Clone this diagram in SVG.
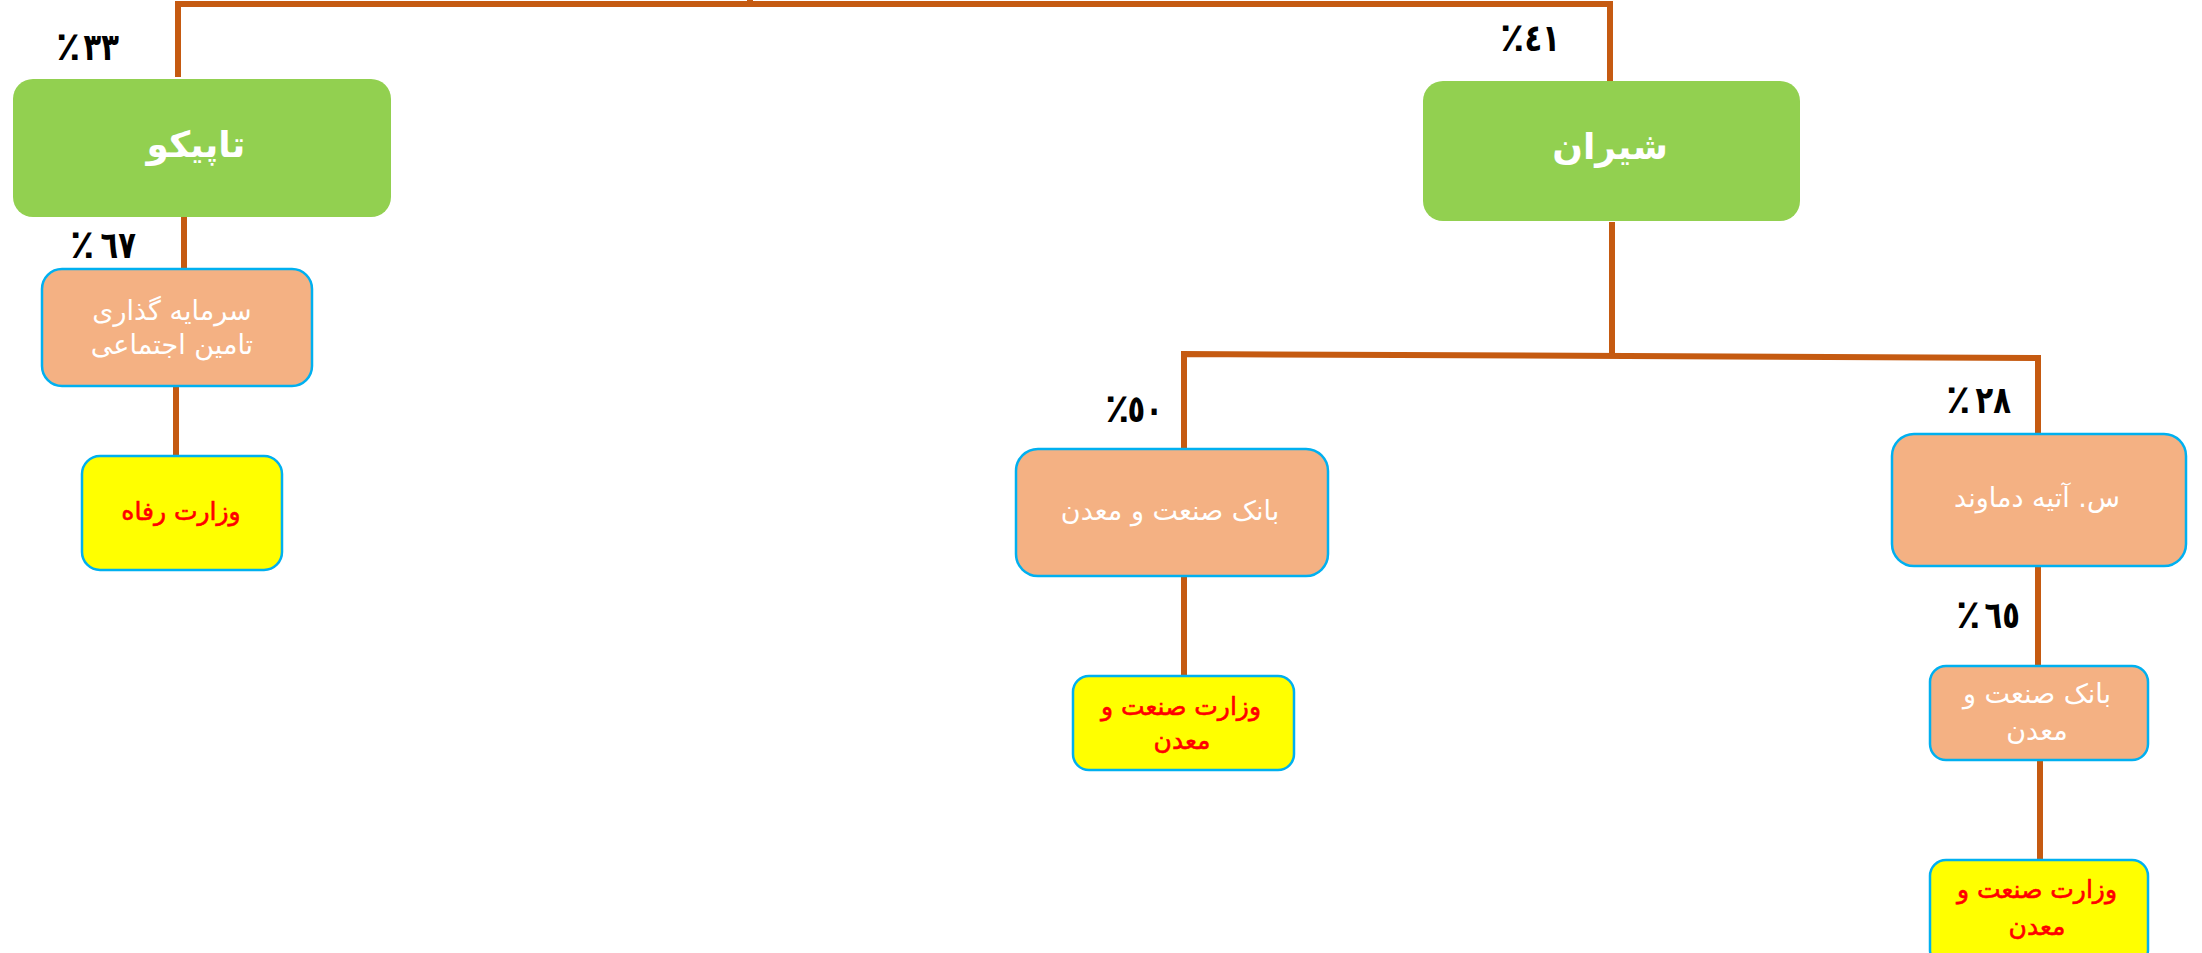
<svg xmlns="http://www.w3.org/2000/svg" width="2202" height="953" viewBox="0 0 2202 953">
<style>
.con{fill:none;stroke:#C55A11;stroke-width:6;stroke-linecap:butt;stroke-linejoin:miter}
.green{fill:#92D050;stroke:none}
.peach{fill:#F4B183;stroke:#00B0F0;stroke-width:2.5}
.yel{fill:#FFFF00;stroke:#00B0F0;stroke-width:2.5}
text{font-family:"DejaVu Sans",sans-serif;text-anchor:middle}
.gt{fill:#FFFFFF;font-size:36px;font-weight:bold;direction:rtl}
.pt{fill:#FFFFFF;font-size:27px;direction:rtl}
.yt{fill:#FF0000;stroke:#FF0000;stroke-width:0.6;font-size:25px;direction:rtl}
.ps{fill:#000000;font-size:40px;font-weight:bold;text-anchor:start}
.pd{fill:#000000;font-size:29px;font-weight:bold;text-anchor:end}
</style>
<rect width="2202" height="953" fill="#FFFFFF"/>
<g id="connectors">
<polyline class="con" points="178,77 178,4 1610,4 1610,81"/>
<line class="con" x1="750" y1="-8" x2="750" y2="4"/>
<line class="con" x1="184" y1="217" x2="184" y2="269"/>
<line class="con" x1="176" y1="387" x2="176" y2="456"/>
<line class="con" x1="1612" y1="222" x2="1612" y2="355"/>
<polyline class="con" points="1184,449 1184,354 2038,358 2038,434"/>
<line class="con" x1="1184" y1="576" x2="1184" y2="676"/>
<line class="con" x1="2038" y1="566" x2="2038" y2="666"/>
<line class="con" x1="2040" y1="760" x2="2040" y2="860"/>
</g>
<g id="labels">
<g id="pct-33"><text class="ps" x="56" y="60">٪</text><text class="pd" transform="translate(119,60) scale(1,1.3)">٣٣</text></g>
<g id="pct-67"><text class="ps" x="70" y="258">٪</text><text class="pd" transform="translate(136,258) scale(1,1.3)">٦٧</text></g>
<g id="pct-41"><text class="ps" x="1500" y="51">٪</text><text class="pd" transform="translate(1560,51) scale(1,1.3)">٤١</text></g>
<g id="pct-50"><text class="ps" x="1105" y="422">٪</text><text class="pd" transform="translate(1163,422) scale(1,1.3)">٥٠</text></g>
<g id="pct-28"><text class="ps" x="1946" y="413">٪</text><text class="pd" transform="translate(2011,413) scale(1,1.3)">٢٨</text></g>
<g id="pct-65"><text class="ps" x="1956" y="628">٪</text><text class="pd" transform="translate(2020,628) scale(1,1.3)">٦٥</text></g>
</g>
<g id="node-tapico">
<rect class="green" x="13" y="79" width="378" height="138" rx="20"/>
<text class="gt" x="196" y="157">تاپیکو</text>
</g>
<g id="node-shiran">
<rect class="green" x="1423" y="81" width="377" height="140" rx="20"/>
<text class="gt" x="1610" y="159">شیران</text>
</g>
<g id="node-tamin">
<rect class="peach" x="42" y="269" width="270" height="117" rx="20"/>
<text class="pt" x="172" y="320">سرمایه گذاری</text>
<text class="pt" x="172" y="354">تامین اجتماعی</text>
</g>
<g id="node-refah">
<rect class="yel" x="82" y="456" width="200" height="114" rx="18"/>
<text class="yt" x="181" y="520">وزارت رفاه</text>
</g>
<g id="node-bank1">
<rect class="peach" x="1016" y="449" width="312" height="127" rx="22"/>
<text class="pt" x="1170" y="520">بانک صنعت و معدن</text>
</g>
<g id="node-vezarat1">
<rect class="yel" x="1073" y="676" width="221" height="94" rx="16"/>
<text class="yt" x="1181" y="715">وزارت صنعت و</text>
<text class="yt" x="1182" y="749">معدن</text>
</g>
<g id="node-atieh">
<rect class="peach" x="1892" y="434" width="294" height="132" rx="22"/>
<text class="pt" x="2037" y="507">س. آتیه دماوند</text>
</g>
<g id="node-bank2">
<rect class="peach" x="1930" y="666" width="218" height="94" rx="16"/>
<text class="pt" x="2037" y="703">بانک صنعت و</text>
<text class="pt" x="2037" y="740">معدن</text>
</g>
<g id="node-vezarat2">
<rect class="yel" x="1930" y="860" width="218" height="106" rx="16"/>
<text class="yt" x="2037" y="898">وزارت صنعت و</text>
<text class="yt" x="2037" y="935">معدن</text>
</g>
</svg>
